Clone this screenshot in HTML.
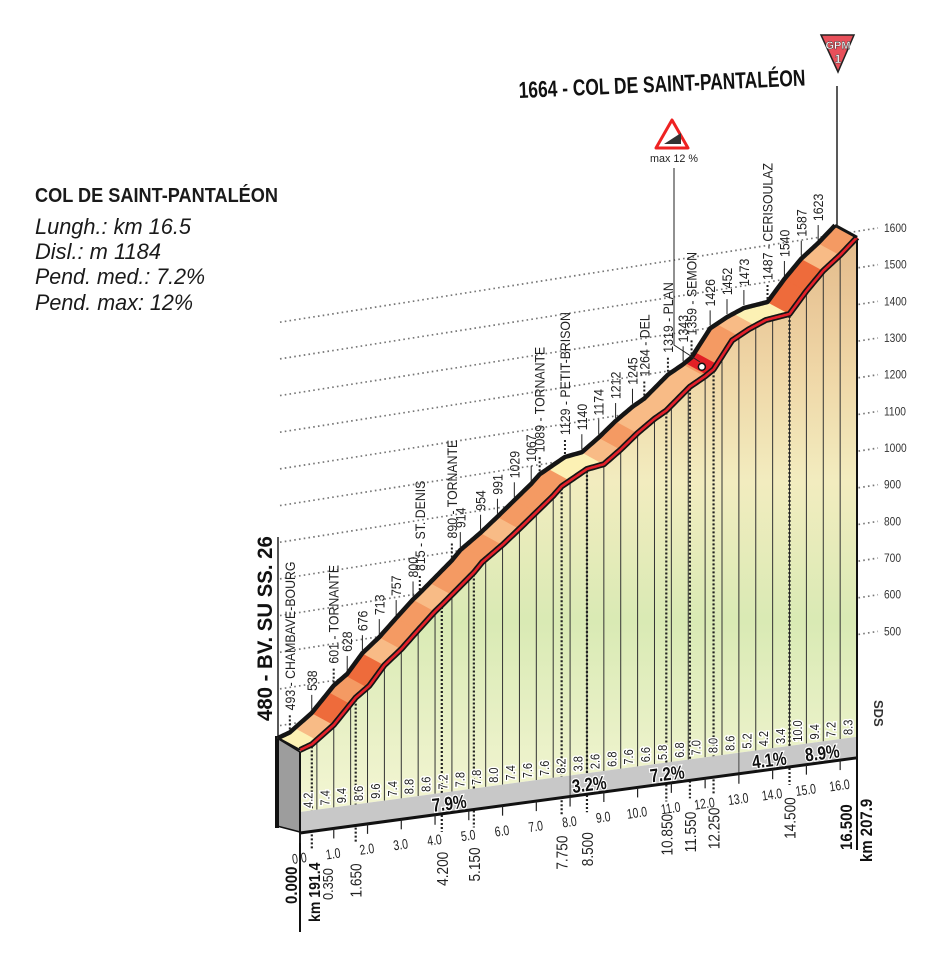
<!DOCTYPE html>
<html><head><meta charset="utf-8"><style>
html,body{margin:0;padding:0;background:#fff;width:950px;height:954px;overflow:hidden}
svg{display:block}
</style></head><body>
<svg id="s" width="950" height="954" xmlns="http://www.w3.org/2000/svg" font-family="Liberation Sans, sans-serif">
<defs>
<linearGradient id="fg" gradientUnits="userSpaceOnUse" x1="0" y1="230" x2="0" y2="790">
<stop offset="0" stop-color="#e3b98a"/>
<stop offset="0.25" stop-color="#efd6a6"/>
<stop offset="0.45" stop-color="#f2ecbf"/>
<stop offset="0.7" stop-color="#d9eab4"/>
<stop offset="1" stop-color="#f1f4d0"/>
</linearGradient>
</defs>
<g id="grid"></g>
<g id="main"></g>
<text x="35" y="202" font-weight="bold" font-size="20" fill="#1a1a1a" textLength="243" lengthAdjust="spacingAndGlyphs">COL DE SAINT-PANTALÉON</text>
<g font-style="italic" font-size="22" fill="#1a1a1a">
<text x="35" y="234" textLength="156" lengthAdjust="spacingAndGlyphs">Lungh.: km 16.5</text>
<text x="35" y="259" textLength="126" lengthAdjust="spacingAndGlyphs">Disl.: m 1184</text>
<text x="35" y="284" textLength="170" lengthAdjust="spacingAndGlyphs">Pend. med.:  7.2%</text>
<text x="35" y="310" textLength="158" lengthAdjust="spacingAndGlyphs">Pend. max:  12%</text>
</g>
<text x="519" y="98" transform="rotate(-2.5 519 98)" font-weight="bold" font-size="23" fill="#111" textLength="287" lengthAdjust="spacingAndGlyphs">1664 - COL DE SAINT-PANTALÉON</text>
<polygon points="821,35 854,35 838,72" fill="#e8505a" stroke="#222" stroke-width="1.5"/>
<text x="838" y="49" text-anchor="middle" font-weight="bold" font-size="11" fill="#fff" stroke="#333" stroke-width="0.4">GPM</text>
<text x="838" y="63" text-anchor="middle" font-weight="bold" font-size="12" fill="#fff" stroke="#333" stroke-width="0.4">1</text>
<line x1="837" y1="86" x2="837" y2="228" stroke="#222" stroke-width="1.5"/>
<polygon points="672,120 688,148 656,148" fill="#fff" stroke="#e22" stroke-width="3" stroke-linejoin="round"/>
<polygon points="664,144 681,144 681,133" fill="#333"/>
<text x="674" y="162" text-anchor="middle" font-size="11" fill="#222" textLength="48" lengthAdjust="spacingAndGlyphs">max 12 %</text>
<polyline points="674,168 674,345 700,362" fill="none" stroke="#222" stroke-width="1"/>
<text x="0" y="0" transform="translate(874,700) rotate(90)" font-weight="bold" font-size="13" fill="#333">SDS</text>
</svg>
<script>
var S=document.getElementById('main'),G=document.getElementById('grid'),NS='http://www.w3.org/2000/svg';
function el(p,t,a,txt){var e=document.createElementNS(NS,t);for(var k in a)e.setAttribute(k,a[k]);if(txt!=null)e.textContent=txt;p.appendChild(e);return e;}
var P=[[0,480],[0.35,493],[1.0,538],[1.65,601],[2.05,628],[2.5,676],[3.0,713],[3.5,757],[4.0,800],[4.2,815],[5.15,890],[5.4,914],[6.0,954],[6.5,991],[7.0,1029],[7.5,1067],[7.75,1089],[8.5,1129],[9.0,1140],[9.5,1174],[10,1212],[10.5,1245],[10.85,1264],[11.55,1319],[12.0,1343],[12.25,1359],[12.8,1426],[13.3,1452],[13.8,1473],[14.5,1487],[15.0,1540],[15.5,1587],[16.0,1623],[16.5,1664]];
function E(d){for(var i=1;i<P.length;i++){if(d<=P[i][0]){var a=P[i-1],b=P[i];return a[1]+(b[1]-a[1])*(d-a[0])/(b[0]-a[0]);}}return 1664;}
var K=33.76,Kv=0.433;
function xb(d){return 278+d*K}function yb(d){return 738-(E(d)-480)*Kv}
function xf(d){return 300+d*K}function yf(d){return 750-(E(d)-480)*Kv}
function ybot(x){return 833-(x-300)*0.135}
function rt(x,y,size,txt,attrs,sc){var a={transform:'translate('+x+','+y+') rotate(-90) scale('+(sc||0.88)+',1)','font-size':size,fill:'#222'};for(var k in attrs)a[k]=attrs[k];return el(S,'text',a,txt);}
var els=[1600,1500,1400,1300,1200,1100,1000,900,800,700,600,500];
els.forEach(function(e){var yr=228+(1600-e)*0.3667;var yl=yr+(880-280)*0.157;
el(G,'line',{x1:280,y1:yl,x2:878,y2:yr,stroke:'#777','stroke-width':1.7,'stroke-dasharray':'1.6,3.2'});
el(G,'text',{x:884,y:yr+4,'font-size':12,fill:'#333',transform:'translate('+884+' 0) scale(0.85,1) translate(-884 0)'},String(e));});
var ds=[];for(var d=0;d<=16.5001;d+=0.05)ds.push(Math.round(d*100)/100);
var pts=ds.map(function(d){return xf(d)+','+yf(d)}).join(' ');
var bandTop=function(x){return ybot(x)-21};
el(S,'polygon',{points:pts+' 857,'+bandTop(857)+' 300,'+bandTop(300),fill:'url(#fg)'});
el(S,'line',{x1:278,y1:537,x2:278,y2:738,stroke:'#222','stroke-width':1.5});
rt(272,721,21,'480 - BV. SU SS. 26',{'font-weight':'bold',fill:'#111'},0.97);
for(var d=0.5;d<16.5;d+=0.5){var x=xf(d);el(S,'line',{x1:x,y1:yf(d),x2:x,y2:bandTop(x),stroke:'#333','stroke-width':1});}
var LM=[0.35,1.65,4.2,5.15,7.75,8.5,10.85,11.55,12.25,14.5];
LM.forEach(function(d){var x=xf(d);el(S,'line',{x1:x,y1:yf(d)+2,x2:x,y2:ybot(x)+18,stroke:'#222','stroke-width':2.2,'stroke-dasharray':'2,2'});});
el(S,'polygon',{points:'300,'+bandTop(300)+' 857,'+bandTop(857)+' 857,'+ybot(857)+' 300,'+ybot(300),fill:'#c8c8c8'});
[8,13].forEach(function(d){var x=xf(d);el(S,'line',{x1:x,y1:bandTop(x),x2:x,y2:ybot(x),stroke:'#444','stroke-width':1});});
el(S,'line',{x1:300,y1:ybot(300),x2:857,y2:ybot(857),stroke:'#111','stroke-width':3});
[[450,'7.9%'],[590,'3.2%'],[668,'7.2%'],[770,'4.1%'],[823,'8.9%']].forEach(function(a){var x=a[0],y=ybot(x)-3;el(S,'text',{x:0,y:0,'text-anchor':'middle','font-size':19,'font-weight':'bold',fill:'#111',stroke:'#fff','stroke-width':2.5,'paint-order':'stroke',transform:'translate('+x+','+y+') rotate(-7) scale(0.8,1)'},a[1]);});
var SL=['4.2','7.4','9.4','8.6','9.6','7.4','8.8','8.6','7.2','7.8','7.8','8.0','7.4','7.6','7.6','8.2','3.8','2.6','6.8','7.6','6.6','5.8','6.8','7.0','8.0','8.6','5.2','4.2','3.4','10.0','9.4','7.2','8.3'];
SL.forEach(function(s,i){var x=xf(i*0.5+0.25),y=bandTop(x)-3;
rt(x+4,y,12.5,s,{stroke:'#fff','stroke-width':3,'paint-order':'stroke'});});
el(S,'polygon',{points:'277,738 300,752 300,832 277,826',fill:'#9d9d9d',stroke:'#111','stroke-width':1.5});
el(S,'line',{x1:277,y1:736,x2:277,y2:828,stroke:'#111','stroke-width':4});
el(S,'line',{x1:300,y1:752,x2:300,y2:932,stroke:'#111','stroke-width':2});
el(S,'line',{x1:857,y1:238,x2:857,y2:850,stroke:'#111','stroke-width':2});
function col(v){v=parseFloat(v);if(v<5)return '#fcf1b4';if(v<7.5)return '#f8bb86';if(v<9)return '#f49a63';return '#ee6b3b';}
SL.forEach(function(s,i){var a=i*0.5,b=a+0.5,q=[];for(var d=a;d<=b+0.001;d+=0.05)q.push(xb(d)+','+yb(d));for(var d=b;d>=a-0.001;d-=0.05)q.push(xf(d)+','+yf(d));
el(S,'polygon',{points:q.join(' '),fill:col(s),stroke:col(s),'stroke-width':0.6});});
(function(){var a=12.05,b=12.35,q=[];for(var d=a;d<=b+0.001;d+=0.05)q.push(xb(d)+','+yb(d));for(var d=b;d>=a-0.001;d-=0.05)q.push(xf(d)+','+yf(d));el(S,'polygon',{points:q.join(' '),fill:'#e21f25'});})();
el(S,'circle',{cx:xb(12.2)+12,cy:yb(12.2)+8,r:3.5,fill:'#fff',stroke:'#111','stroke-width':1.5});
var bp=ds.map(function(d){return xb(d)+','+yb(d)}).join(' ');
el(S,'polyline',{points:bp,fill:'none',stroke:'#151515','stroke-width':4.5,'stroke-linejoin':'round'});
el(S,'polyline',{points:pts,fill:'none',stroke:'#151515','stroke-width':6,'stroke-linejoin':'round'});
el(S,'polyline',{points:pts,fill:'none',stroke:'#e3202a','stroke-width':2.6,'stroke-linejoin':'round'});
el(S,'line',{x1:xb(0),y1:yb(0),x2:xf(0),y2:yf(0),stroke:'#151515','stroke-width':2});
el(S,'line',{x1:xb(16.5),y1:yb(16.5),x2:xf(16.5),y2:yf(16.5),stroke:'#151515','stroke-width':3});
var TL=[[0.35,'493 - CHAMBAVE-BOURG',1],[1.0,'538'],[1.65,'601 - TORNANTE',1],[2.05,'628'],[2.5,'676'],[3.0,'713'],[3.5,'757'],[4.0,'800'],[4.2,'815 - ST. DENIS',1],[5.15,'890 - TORNANTE',1],[5.4,'914'],[6.0,'954'],[6.5,'991'],[7.0,'1029'],[7.5,'1067'],[7.75,'1089 - TORNANTE',1],[8.5,'1129 - PETIT-BRISON',1],[9.0,'1140'],[9.5,'1174'],[10,'1212'],[10.5,'1245'],[10.85,'1264 - DEL',1],[11.55,'1319 - PLAN',1],[12.0,'1343'],[12.25,'1359 - SEMON',1],[12.8,'1426'],[13.3,'1452'],[13.8,'1473'],[14.5,'1487 - CERISOULAZ',1],[15.0,'1540'],[15.5,'1587'],[16.0,'1623']];
TL.forEach(function(t){var x=xb(t[0]),y=yb(t[0])-3;
el(S,'line',{x1:x,y1:y,x2:x,y2:y-15,stroke:'#222','stroke-width':t[2]?2:1,'stroke-dasharray':t[2]?'2,2':'none'});
rt(x+5,y-19,14,t[1]);});
for(var k=0;k<=16;k++){var x=xf(k),y=ybot(x);el(S,'line',{x1:x,y1:y,x2:x,y2:y+10,stroke:'#222','stroke-width':1.2});
el(S,'text',{x:0,y:0,'text-anchor':'middle','font-size':14,fill:'#222',transform:'translate('+x+','+(y+30)+') rotate(-8) scale(0.75,1)'},k.toFixed(1));}
var LB=[[1.65,'1.650'],[4.2,'4.200'],[5.15,'5.150'],[7.75,'7.750'],[8.5,'8.500'],[10.85,'10.850'],[11.55,'11.550'],[12.25,'12.250'],[14.5,'14.500']];
LB.forEach(function(t){var x=xf(t[0]),y=ybot(x)+72;rt(x+6,y,15.5,t[1]);});
rt(333,900,14.5,'0.350');
rt(297,904,17,'0.000',{'font-weight':'bold',fill:'#111'});
rt(320,922,16,'km 191.4',{'font-weight':'bold',fill:'#111'});
rt(852,850,17,'16.500',{'font-weight':'bold',fill:'#111'});
rt(872,862,17,'km 207.9',{'font-weight':'bold',fill:'#111'});
</script>
</body></html>
